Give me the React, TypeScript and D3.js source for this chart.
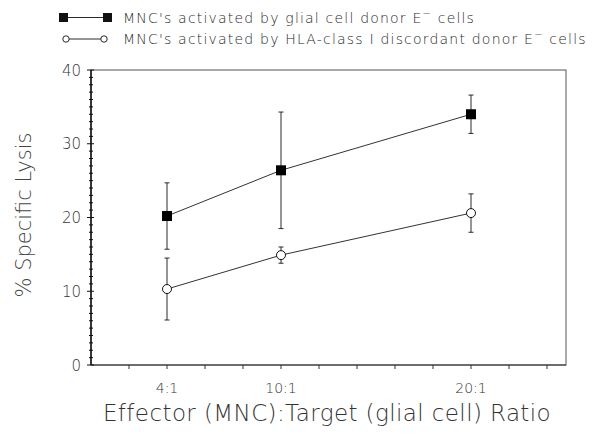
import React from "react";
import * as d3 from "d3";

const ratioValues = [4, 10, 20];
const ratioLabels = ["4:1", "10:1", "20:1"];
const glialMeans = [20.2, 26.4, 34.0];
const glialErr = [4.5, 7.9, 2.6];
const hlaMeans = [10.3, 14.9, 20.6];
const hlaErr = [4.2, 1.1, 2.6];
const yTickValues = [0, 10, 20, 30, 40];
const legendLabels = [
  "MNC's activated by glial cell donor E",
  "MNC's activated by HLA-class I discordant donor E",
];

const W = 613,
  H = 433;
const left = 91,
  right = 566,
  top = 70,
  bottom = 365;
const font = "'DejaVu Sans', sans-serif";
const ink = "#2a2a2a";

const ErrorBar = ({ x, y1, y2 }: { x: number; y1: number; y2: number }) => (
  <g stroke={ink} strokeWidth={1}>
    <line x1={x} x2={x} y1={y1} y2={y2} />
    <line x1={x - 2.5} x2={x + 2.5} y1={y1} y2={y1} />
    <line x1={x - 2.5} x2={x + 2.5} y1={y2} y2={y2} />
  </g>
);

const App = () => {
  const x = d3.scaleLinear().domain([0, 25]).range([left, right]);
  const y = d3.scaleLinear().domain([0, 40]).range([bottom, top]);

  const line = d3
    .line<number>()
    .x((_, i) => x(ratioValues[i]))
    .y(d => y(d));

  const xMinor = d3.range(2, 25, 2);
  const yMinor = d3.range(1, 40).filter(v => v % 10 !== 0);

  return (
    <svg
      width={W}
      height={H}
      style={{ position: "absolute", left: 0, top: 0, background: "#fff" }}
    >
      {/* legend */}
      <g fontFamily={font} fontSize={14} fill={ink} fontWeight={300} letterSpacing={1.2}>
        <rect x={59} y={13} width={9} height={9} fill="#111" />
        <line x1={68} x2={103} y1={17.5} y2={17.5} stroke={ink} />
        <rect x={103} y={13} width={9} height={9} fill="#111" />
        <text x={123} y={22.5}>
          {legendLabels[0]}
          <tspan dy={-6} fontSize={10}>−</tspan>
          <tspan dy={6}> cells</tspan>
        </text>
        <circle cx={66} cy={39} r={3.2} fill="#fff" stroke={ink} />
        <line x1={69} x2={101} y1={39} y2={39} stroke={ink} />
        <circle cx={104} cy={39} r={3.2} fill="#fff" stroke={ink} />
        <text x={123} y={44}>
          {legendLabels[1]}
          <tspan dy={-6} fontSize={10}>−</tspan>
          <tspan dy={6}> cells</tspan>
        </text>
      </g>

      {/* frame */}
      <rect
        x={left}
        y={top}
        width={right - left}
        height={bottom - top}
        fill="none"
        stroke="#555"
        strokeWidth={1}
      />
      <line x1={left} x2={left} y1={top} y2={bottom} stroke="#111" strokeWidth={1.5} />
      <line x1={left} x2={right} y1={bottom} y2={bottom} stroke="#333" strokeWidth={1.2} />

      {/* y ticks */}
      <g stroke="#111" strokeWidth={1}>
        {yMinor.map(v => (
          <line key={v} x1={left - 2} x2={left + 2} y1={y(v)} y2={y(v)} />
        ))}
        {yTickValues.map(v => (
          <line key={v} x1={left - 4} x2={left + 3} y1={y(v)} y2={y(v)} />
        ))}
      </g>
      <g fontFamily={font} fontSize={15} fill="#333" fontWeight={300} textAnchor="end">
        {yTickValues.map(v => (
          <text key={v} x={left - 10} y={y(v) + 5.5}>
            {v}
          </text>
        ))}
      </g>

      {/* x ticks */}
      <g stroke="#333" strokeWidth={1}>
        {xMinor.map(v => (
          <line key={v} x1={x(v)} x2={x(v)} y1={bottom} y2={bottom + 4} />
        ))}
      </g>
      <g fontFamily={font} fontSize={14} fill="#333" fontWeight={300} textAnchor="middle">
        {ratioValues.map((v, i) => (
          <text key={v} x={x(v)} y={393}>
            {ratioLabels[i]}
          </text>
        ))}
      </g>

      {/* axis titles */}
      <text
        transform={`translate(31,215) rotate(-90)`}
        textAnchor="middle"
        fontFamily={font}
        fontSize={21}
        fontWeight={300}
        fill="#444"
      >
        % Specific Lysis
      </text>
      <text
        x={327}
        y={421}
        textAnchor="middle"
        fontFamily={font}
        fontSize={23}
        fontWeight={300}
        letterSpacing={0.4}
        fill="#333"
      >
        Effector (MNC):Target (glial cell) Ratio
      </text>

      {/* series */}
      <path d={line(glialMeans) || ""} fill="none" stroke="#333" strokeWidth={1} />
      <path d={line(hlaMeans) || ""} fill="none" stroke="#333" strokeWidth={1} />

      {glialMeans.map((m, i) => (
        <ErrorBar
          key={"ge" + i}
          x={x(ratioValues[i])}
          y1={y(m + glialErr[i])}
          y2={y(m - glialErr[i])}
        />
      ))}
      {hlaMeans.map((m, i) => (
        <ErrorBar
          key={"he" + i}
          x={x(ratioValues[i])}
          y1={y(m + hlaErr[i])}
          y2={y(m - hlaErr[i])}
        />
      ))}

      {glialMeans.map((m, i) => (
        <rect
          key={"g" + i}
          x={x(ratioValues[i]) - 5}
          y={y(m) - 5}
          width={10}
          height={10}
          fill="#000"
        />
      ))}
      {hlaMeans.map((m, i) => (
        <circle
          key={"h" + i}
          cx={x(ratioValues[i])}
          cy={y(m)}
          r={4.5}
          fill="#fff"
          stroke="#111"
          strokeWidth={1}
        />
      ))}
    </svg>
  );
};

export default App;
